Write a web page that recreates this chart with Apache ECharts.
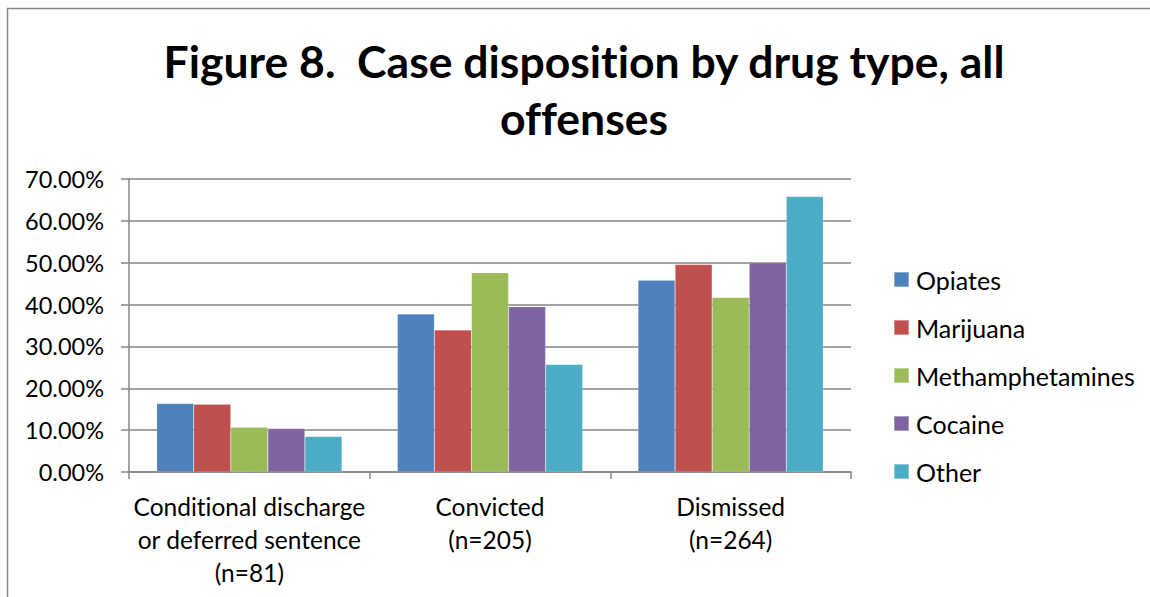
<!DOCTYPE html>
<html>
<head>
<meta charset="utf-8">
<script src="https://cdn.jsdelivr.net/npm/echarts@6/dist/echarts.min.js"></script>
<style>
html,body{margin:0;padding:0;background:#fff;}
#c{width:1150px;height:597px;}
#c text{font-variant-ligatures:none;font-feature-settings:"liga" 0,"clig" 0;}
</style>
</head>
<body>
<div id="c"></div>
<script>
const categories = ['Conditional discharge\nor deferred sentence\n(n=81)', 'Convicted\n(n=205)', 'Dismissed\n(n=264)'];
const seriesNames = ['Opiates', 'Marijuana', 'Methamphetamines', 'Cocaine', 'Other'];
const opiates = [0.1636, 0.3775, 0.4580];
const marijuana = [0.1620, 0.3390, 0.4960];
const methamphetamines = [0.1070, 0.4760, 0.4170];
const cocaine = [0.1040, 0.3950, 0.5000];
const other = [0.0846, 0.2570, 0.6580];
const yTicks = [0, 0.1, 0.2, 0.3, 0.4, 0.5, 0.6, 0.7];
const colors = ['#4F81BD', '#C0504D', '#9BBB59', '#8064A2', '#4BACC6'];
const titleText = 'Figure 8.  Case disposition by drug type, all\noffenses';

const FONT = 'Lato, "Open Sans", sans-serif';
const seriesData = [opiates, marijuana, methamphetamines, cocaine, other];

const chart = echarts.init(document.getElementById('c'), null, {renderer: 'svg'});
chart.setOption({
  animation: false,
  backgroundColor: '#fff',
  color: colors,
  graphic: [
    {type: 'rect', shape: {x: 7.5, y: 8.5, width: 1300, height: 800}, style: {fill: 'none', stroke: '#868686', lineWidth: 1.5}, silent: true, z: -1},
    {type: 'text', x: 584, y: 32, style: {text: titleText, fontFamily: FONT, fontWeight: 'bold', fontSize: 44.5, lineHeight: 57, fill: '#000', align: 'center', verticalAlign: 'top'}}
  ],
  legend: {
    orient: 'vertical',
    left: 893,
    top: 267,
    padding: 0,
    itemWidth: 15,
    itemHeight: 15,
    itemGap: 23,
    icon: 'rect',
    data: seriesNames,
    textStyle: {fontFamily: FONT, fontSize: 25, color: '#000', lineHeight: 25, padding: [0,0,0,2]}
  },
  grid: {left: 129, right: 299, top: 179, bottom: 125, containLabel: false},
  xAxis: {
    type: 'category',
    data: categories,
    axisLine: {lineStyle: {color: '#868686', width: 1.5}},
    axisTick: {show: true, length: 7, lineStyle: {color: '#868686', width: 1.5}},
    axisLabel: {fontFamily: FONT, fontSize: 24.5, color: '#000', lineHeight: 33, margin: 18, interval: 0}
  },
  yAxis: {
    type: 'value',
    min: 0,
    max: 0.7,
    interval: 0.1,
    axisLine: {show: true, lineStyle: {color: '#868686', width: 1.5}},
    axisTick: {show: true, length: 8, lineStyle: {color: '#868686', width: 1.5}},
    splitLine: {lineStyle: {color: '#868686', width: 1.5}},
    axisLabel: {fontFamily: FONT, fontSize: 23.5, color: '#000', margin: 25, formatter: v => (v * 100).toFixed(2) + '%'}
  },
  series: seriesNames.map((n, i) => ({
    name: n,
    type: 'bar',
    data: seriesData[i],
    barGap: '0%',
    barCategoryGap: '23%',
    itemStyle: {borderColor: 'rgba(255,255,255,0.35)', borderWidth: 0.5}
  }))
});
</script>
</body>
</html>
